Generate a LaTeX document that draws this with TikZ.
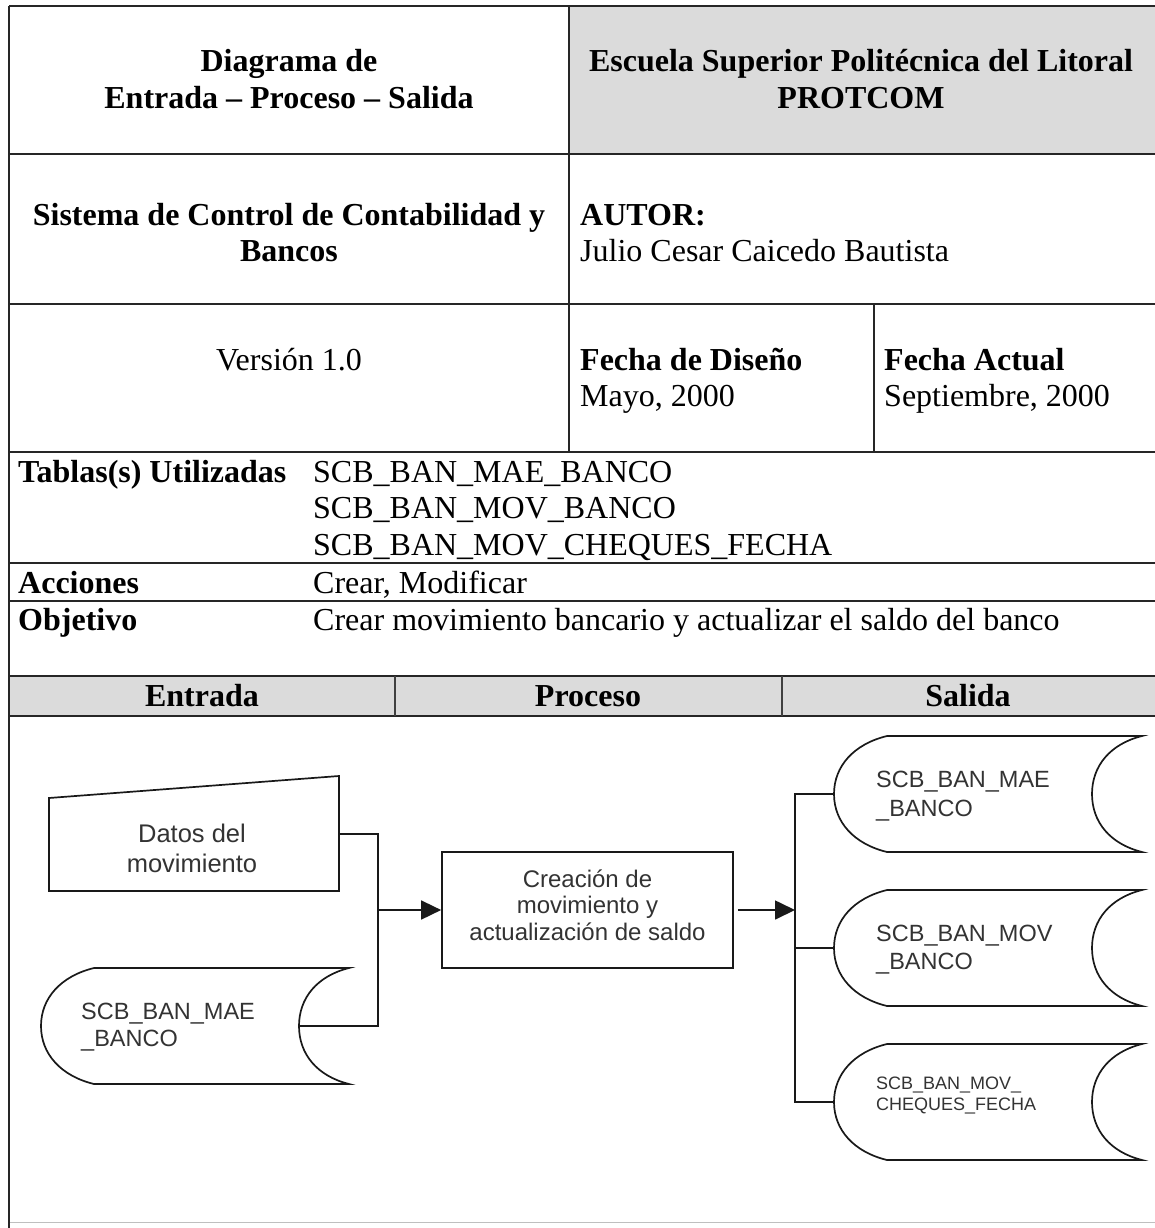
\documentclass[tikz,border=0pt]{standalone}
\usepackage{fontspec}
\setmainfont{Liberation Serif}
\newfontfamily\arialf{Liberation Sans}
\usetikzlibrary{arrows.meta}
\newcommand\tblfont{\fontsize{32}{37}\selectfont}
\tikzset{
  tline/.style={line width=2pt, draw=black!85},
  vline/.style={line width=1.4pt, draw=black!85},
  hdrdiv/.style={line width=1.2pt, draw=black!75},
  cellfill/.style={fill=black!14, draw=none},
  lbl/.style={inner sep=0pt, font=\tblfont},
  lblb/.style={inner sep=0pt, font=\tblfont\bfseries},
  dlin/.style={line width=1.7pt, draw=black!90},
  arr/.style={dlin, -{Triangle[length=20pt,width=19pt]}},
  dtxt/.style={inner sep=0pt, text=black!80, font=\arialf\fontsize{23.5}{29}\selectfont},
  dtxtbig/.style={inner sep=0pt, text=black!80, font=\arialf\fontsize{25.5}{30}\selectfont},
  dtxtproc/.style={inner sep=0pt, text=black!80, font=\arialf\fontsize{24}{27}\selectfont},
  dtxtsmall/.style={inner sep=0pt, text=black!80, font=\arialf\fontsize{18}{21}\selectfont},
  procbox/.style={draw=black!90, line width=1.7pt, minimum width=291pt, minimum height=116pt, inner sep=0pt},
  storage/.pic={
    \draw[dlin] (53,-58) -- (308,-58)
      .. controls (276,-50) and (258,-28) .. (258,0)
      .. controls (258,28) and (276,50) .. (308,58)
      -- (53,58)
      .. controls (20,50) and (0,28) .. (0,0)
      .. controls (0,-28) and (20,-50) .. (53,-58) -- cycle;
    \coordinate (-w) at (0,0);
    \coordinate (-e) at (258,0);
  }
}
\begin{document}
\begin{tikzpicture}[x=1pt,y=-1pt]
\useasboundingbox (0,0) rectangle (1154,1228);
% shaded cells
\fill[cellfill] (569,6) rectangle (1160,154);
\fill[cellfill] (9,676) rectangle (1160,716);
% table lines
\draw[tline] (9,6) -- (1160,6);
\draw[tline] (9,154) -- (1160,154);
\draw[tline] (9,304) -- (1160,304);
\draw[tline] (9,452) -- (1160,452);
\draw[tline] (9,563) -- (1160,563);
\draw[tline] (9,601) -- (1160,601);
\draw[tline] (9,676) -- (1160,676);
\draw[tline] (9,716) -- (1160,716);
\draw[line width=1pt, draw=black!25] (9,1222) -- (1160,1222);
\draw[tline] (9,6) -- (9,1228);
\draw[vline] (569,6) -- (569,452);
\draw[vline] (874,304) -- (874,452);
\draw[hdrdiv] (395,676) -- (395,716);
\draw[hdrdiv] (782,676) -- (782,716);
% row 1
\node[lblb, anchor=base] (t1a) at (289,72) {Diagrama de};
\node[lblb, anchor=base] (t1b) at (289,109) {Entrada – Proceso – Salida};
\node[lblb, anchor=base] (t2a) at (861,72) {Escuela Superior Politécnica del Litoral};
\node[lblb, anchor=base] (t2b) at (861,109) {PROTCOM};
% row 2
\node[lblb, anchor=base] (t3a) at (289,225) {Sistema de Control de Contabilidad y};
\node[lblb, anchor=base] (t3b) at (289,261) {Bancos};
\node[lblb, anchor=base west] (t4a) at (580,225) {AUTOR:};
\node[lbl, anchor=base west] (t4b) at (580,261) {Julio Cesar Caicedo Bautista};
% row 3
\node[lbl, anchor=base] (t5) at (289,370) {Versión 1.0};
\node[lblb, anchor=base west] (t6a) at (580,370) {Fecha de Diseño};
\node[lbl, anchor=base west] (t6b) at (580,406) {Mayo, 2000};
\node[lblb, anchor=base west] (t7a) at (884,370) {Fecha Actual};
\node[lbl, anchor=base west] (t7b) at (884,406) {Septiembre, 2000};
% rows 4-6
\node[lblb, anchor=base west] (t8) at (18,482) {Tablas(s) Utilizadas};
\node[lbl, anchor=base west] (t8a) at (313,482) {SCB\_BAN\_MAE\_BANCO};
\node[lbl, anchor=base west] (t8b) at (313,518) {SCB\_BAN\_MOV\_BANCO};
\node[lbl, anchor=base west] (t8c) at (313,555) {SCB\_BAN\_MOV\_CHEQUES\_FECHA};
\node[lblb, anchor=base west] (t9) at (18,593) {Acciones};
\node[lbl, anchor=base west] (t9a) at (313,593) {Crear, Modificar};
\node[lblb, anchor=base west] (t10) at (18,630) {Objetivo};
\node[lbl, anchor=base west] (t10a) at (313,630) {Crear movimiento bancario y actualizar el saldo del banco};
% header
\node[lblb, anchor=base] (h1) at (202,706) {Entrada};
\node[lblb, anchor=base] (h2) at (588,706) {Proceso};
\node[lblb, anchor=base] (h3) at (968,706) {Salida};
% diagram: manual input
\draw[dlin] (49,798) -- (339,776) -- (339,891) -- (49,891) -- cycle;
\coordinate (trapR) at (339,834);
\node[dtxtbig, anchor=base] (dm1) at (192,842) {Datos del};
\node[dtxtbig, anchor=base] (dm2) at (192,872) {movimiento};
% input storage
\pic (s0) at (41,1026) {storage};
\node[dtxt, anchor=base west] (s0t1) at (81,1019) {SCB\_BAN\_MAE};
\node[dtxt, anchor=base west] (s0t2) at (81,1046) {\_BANCO};
% process
\node[procbox] (proc) at (587.5,910) {};
\node[dtxtproc, anchor=base] (p1) at (587.5,887) {Creación de};
\node[dtxtproc, anchor=base] (p2) at (587.5,913) {movimiento y};
\node[dtxtproc, anchor=base] (p3) at (587.5,940) {actualización de saldo};
% output storages
\pic (s1) at (834,794) {storage};
\pic (s2) at (834,948) {storage};
\pic (s3) at (834,1102) {storage};
\node[dtxt, anchor=base west] (s1t1) at (876,787) {SCB\_BAN\_MAE};
\node[dtxt, anchor=base west] (s1t2) at (876,816) {\_BANCO};
\node[dtxt, anchor=base west] (s2t1) at (876,941) {SCB\_BAN\_MOV};
\node[dtxt, anchor=base west] (s2t2) at (876,969) {\_BANCO};
\node[dtxtsmall, anchor=base west] (s3t1) at (876,1089) {SCB\_BAN\_MOV\_};
\node[dtxtsmall, anchor=base west] (s3t2) at (876,1110) {CHEQUES\_FECHA};
% connectors
\coordinate (jn) at (378,910);
\coordinate (bus) at (795,910);
\draw[dlin] (trapR) -| (jn);
\draw[dlin] (s0-e) -| (jn);
\draw[arr] (jn) -- (proc.west);
\draw[arr] ([xshift=4pt]proc.east) -- (bus);
\draw[dlin] (s1-w) -| (bus) |- (s3-w);
\draw[dlin] (s2-w) -- (s2-w -| bus);
\end{tikzpicture}
\end{document}
